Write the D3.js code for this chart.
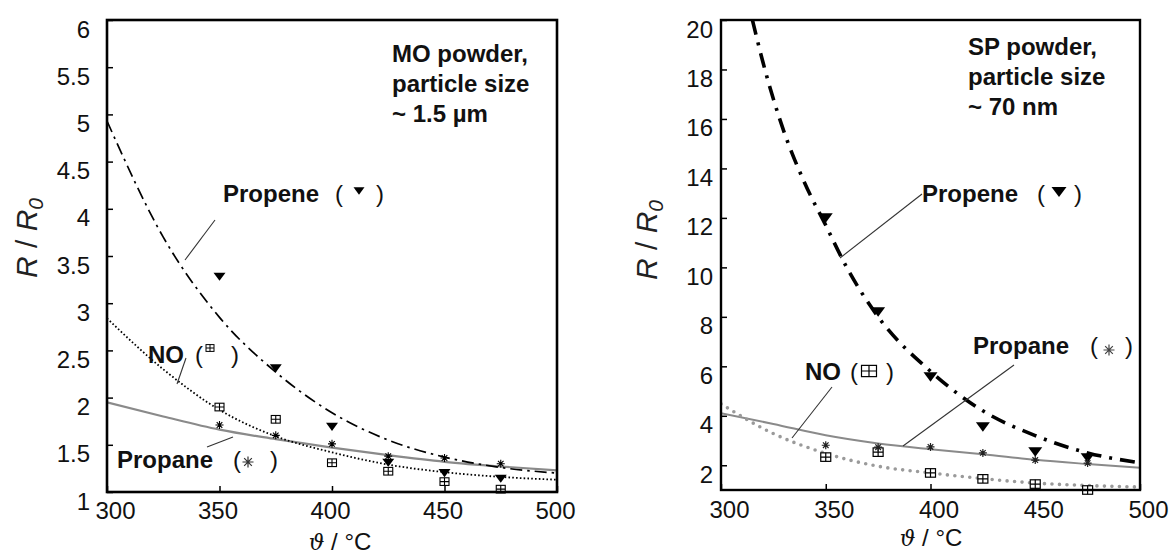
<!DOCTYPE html>
<html><head><meta charset="utf-8">
<script src="https://cdn.jsdelivr.net/npm/d3@7"></script>
<style>
body{margin:0;background:#fff}
svg{display:block}
text{font-family:"Liberation Sans",Arial,Helvetica,sans-serif}
</style>
</head><body>
<svg id="c" width="1174" height="558"></svg>
<script>
// ---------- data ----------
const xTicks = [300, 350, 400, 450, 500];
const moYTicks = [1, 1.5, 2, 2.5, 3, 3.5, 4, 4.5, 5, 5.5, 6];
const spYTicks = [2, 4, 6, 8, 10, 12, 14, 16, 18, 20];

const measT = [350, 375, 400, 425, 450, 475];
const moPropene = [3.28, 2.31, 1.69, 1.31, 1.20, 1.14];
const moNO      = [1.90, 1.77, 1.31, 1.22, 1.11, 1.03];
const moPropane = [1.71, 1.60, 1.51, 1.38, 1.36, 1.30];
const spPropene = [12.0, 8.2, 5.57, 3.55, 2.54, 2.29];
const spNO      = [2.33, 2.53, 1.69, 1.45, 1.24, 1.0];
const spPropane = [2.81, 2.73, 2.74, 2.50, 2.21, 2.09];

const fitT = [300, 325, 350, 375, 400, 425, 450, 475, 500];
const moPropeneFit = [4.93, 3.70, 2.85, 2.27, 1.84, 1.55, 1.37, 1.26, 1.20];
const moNOFit      = [2.84, 2.30, 1.87, 1.59, 1.42, 1.29, 1.21, 1.16, 1.13];
const moPropaneFit = [1.95, 1.80, 1.66, 1.56, 1.47, 1.39, 1.32, 1.27, 1.23];
const spPropeneFitT = [315, 320, 330, 340, 350, 360, 375, 400, 425, 450, 475, 500];
const spPropeneFit  = [20.0, 18.3, 15.5, 13.4, 11.7, 10.0, 8.0, 5.8, 4.2, 3.2, 2.5, 2.1];
const spNOFit      = [4.48, 3.28, 2.48, 1.96, 1.69, 1.46, 1.28, 1.18, 1.12];
const spPropaneFit = [4.1, 3.67, 3.21, 2.88, 2.65, 2.45, 2.22, 2.05, 1.9];

const moNote = ["MO powder,", "particle size", "~ 1.5 µm"];
const spNote = ["SP powder,", "particle size", "~ 70 nm"];

// ---------- drawing ----------
const svg = d3.select("#c");

function drawMarker(g, type, x, y, s, opts) {
  opts = opts || {};
  if (type === "tri") {
    const h = s * 0.68;
    g.append("path").attr("d", `M${x - s},${y - h}L${x + s},${y - h}L${x},${y + h}Z`).attr("fill", "#000");
  } else if (type === "box") {
    const w = s, h = s * (opts.hr || 0.85);
    g.append("rect").attr("x", x - w / 2).attr("y", y - h / 2).attr("width", w).attr("height", h)
      .attr("fill", opts.fill || "#fff").attr("stroke", "#000").attr("stroke-width", opts.sw || 1.2);
    g.append("path").attr("d", `M${x - w / 2},${y}H${x + w / 2}M${x},${y - h / 2}V${y + h / 2}`)
      .attr("stroke", "#000").attr("stroke-width", opts.sw || 1.1);
  } else if (type === "star") {
    const r = s / 2, d = r * 0.7;
    g.append("path").attr("d", `M${x - r},${y}H${x + r}M${x},${y - r}V${y + r}M${x - d},${y - d}L${x + d},${y + d}M${x - d},${y + d}L${x + d},${y - d}`)
      .attr("stroke", opts.color || "#000").attr("stroke-width", opts.sw || 1.2);
  }
}

function panel(cfg) {
  const g = svg.append("g");
  const x = d3.scaleLinear().domain([300, 500]).range([cfg.x0, cfg.x1]);
  const y = d3.scaleLinear().domain(cfg.yDomain).range([cfg.y1, cfg.y0]);

  const clipId = "clip" + cfg.id;
  svg.append("clipPath").attr("id", clipId).append("rect")
    .attr("x", cfg.x0).attr("y", cfg.y0).attr("width", cfg.x1 - cfg.x0).attr("height", cfg.y1 - cfg.y0);

  // y axis
  const ya = g.append("g").attr("transform", `translate(${cfg.x0},0)`)
    .call(d3.axisLeft(y).tickValues(cfg.yTicks).tickSize(-6).tickPadding(cfg.yPad).tickFormat(d3.format("")));
  ya.select(".domain").remove();
  ya.selectAll("line").attr("stroke", "#000").attr("stroke-width", 1.5);
  ya.selectAll("text").attr("dy", null).attr("y", 17).attr("font-size", 24).attr("fill", "#111");

  // x axis
  const xa = g.append("g").attr("transform", `translate(0,${cfg.y1})`)
    .call(d3.axisBottom(x).tickValues(xTicks).tickSize(-6).tickPadding(0).tickFormat(d3.format("")));
  xa.select(".domain").remove();
  xa.selectAll("line").attr("stroke", "#000").attr("stroke-width", 1.5);
  xa.selectAll("text").attr("dy", null).attr("y", cfg.xLabY).attr("font-size", 24).attr("fill", "#111")
    .attr("dx", (d, i) => cfg.xDx[i]);

  // curves
  const cg = g.append("g").attr("clip-path", `url(#${clipId})`);
  const line = d3.line().x(d => x(d[0])).y(d => y(d[1])).curve(d3.curveMonotoneX);
  cfg.curves.forEach(c => {
    cg.append("path").attr("d", line(c.t.map((t, i) => [t, c.v[i]])))
      .attr("fill", "none").attr("stroke", c.color).attr("stroke-width", c.w)
      .attr("stroke-dasharray", c.dash || null).attr("stroke-linecap", c.cap || "butt");
  });

  // markers
  const mg = g.append("g");
  cfg.series.forEach(s => {
    measT.forEach((t, i) => drawMarker(mg, s.type, x(t), y(s.v[i]), s.size, s.opts));
  });

  // frame
  g.append("rect").attr("x", cfg.x0).attr("y", cfg.y0).attr("width", cfg.x1 - cfg.x0).attr("height", cfg.y1 - cfg.y0)
    .attr("fill", "none").attr("stroke", "#000").attr("stroke-width", cfg.frameW);

  // axis titles
  const xt = g.append("text").attr("x", cfg.xTitle[0]).attr("y", cfg.xTitle[1]).attr("text-anchor", "middle")
    .attr("font-size", 24).attr("fill", "#111");
  xt.append("tspan").attr("font-style", "italic").attr("font-family", "'DejaVu Serif',serif").attr("font-size", 22).text("ϑ");
  xt.append("tspan").text(" / °C");

  const yt = g.append("text").attr("transform", `translate(${cfg.yTitle[0]},${cfg.yTitle[1]}) rotate(-90)`)
    .attr("text-anchor", "middle").attr("font-size", 30).attr("fill", "#222");
  yt.append("tspan").attr("font-style", "italic").text("R");
  yt.append("tspan").text(" / ");
  yt.append("tspan").attr("font-style", "italic").text("R");
  yt.append("tspan").attr("font-style", "italic").attr("font-size", 21).attr("dy", 6).text("0");

  // notes
  const nt = g.append("text").attr("font-size", 24).attr("font-weight", "bold").attr("fill", "#111");
  cfg.note.forEach((s, i) => nt.append("tspan").attr("x", cfg.noteX).attr("y", cfg.noteY + i * 30).text(s));

  // labels
  cfg.labels.forEach(L => {
    g.append("line").attr("x1", L.lead[0]).attr("y1", L.lead[1]).attr("x2", L.lead[2]).attr("y2", L.lead[3])
      .attr("stroke", "#333").attr("stroke-width", 1.1);
    g.append("text").attr("x", L.x).attr("y", L.y).attr("font-size", 24).attr("font-weight", "bold").attr("fill", "#111").text(L.name);
    g.append("text").attr("x", L.po).attr("y", L.y).attr("font-size", 24).attr("fill", "#111").text("(");
    g.append("text").attr("x", L.pc).attr("y", L.y).attr("font-size", 24).attr("fill", "#111").text(")");
    drawMarker(g, L.type, L.m[0], L.m[1], L.ms, L.mo);
  });
}

panel({
  id: "mo", x0: 107, x1: 557, y0: 20, y1: 492, yDomain: [1, 6], yTicks: moYTicks, yPad: 17,
  xLabY: 27, xDx: [8, -2, -2, -2, -2], frameW: 2.6,
  xTitle: [340, 550], yTitle: [37, 238],
  noteX: 392, noteY: 62, note: moNote,
  curves: [
    { t: fitT, v: moPropaneFit, color: "#8a8a8a", w: 2.2 },
    { t: fitT, v: moNOFit, color: "#000", w: 1.8, dash: "1.6,2.2" },
    { t: fitT, v: moPropeneFit, color: "#000", w: 1.7, dash: "12,5,2.5,5" }
  ],
  series: [
    { type: "tri", v: moPropene, size: 6 },
    { type: "box", v: moNO, size: 9, opts: { sw: 1.1 } },
    { type: "star", v: moPropane, size: 8, opts: { sw: 1.1 } }
  ],
  labels: [
    { name: "Propene", x: 223, y: 202, po: 335, pc: 376, type: "tri", m: [359, 191], ms: 5.5, lead: [215, 220, 185, 260] },
    { name: "NO", x: 148, y: 363, po: 195, pc: 231, type: "box", m: [210, 348], ms: 8, mo: { sw: 1 }, lead: [186, 358, 177, 384] },
    { name: "Propane", x: 117, y: 468, po: 233, pc: 270, type: "star", m: [248, 462], ms: 11, mo: { sw: 1.2, color: "#333" }, lead: [207, 447, 233, 437] }
  ]
});

panel({
  id: "sp", x0: 721, x1: 1140, y0: 20, y1: 490, yDomain: [1, 20], yTicks: spYTicks, yPad: 8,
  xLabY: 28, xDx: [8, 8, 8, 8, 8], frameW: 2.4,
  xTitle: [931, 546], yTitle: [657, 240],
  noteX: 968, noteY: 55, note: spNote,
  curves: [
    { t: fitT, v: spPropaneFit, color: "#8a8a8a", w: 2 },
    { t: fitT, v: spNOFit, color: "#9a9a9a", w: 3.6, dash: "0,7.5", cap: "round" },
    { t: spPropeneFitT, v: spPropeneFit, color: "#000", w: 3.6, dash: "15,8,3,8" }
  ],
  series: [
    { type: "tri", v: spPropene, size: 7 },
    { type: "box", v: spNO, size: 10, opts: { sw: 1.2 } },
    { type: "star", v: spPropane, size: 8, opts: { sw: 1.2, color: "#222" } }
  ],
  labels: [
    { name: "Propene", x: 922, y: 202, po: 1037, pc: 1074, type: "tri", m: [1059, 192], ms: 7.5, lead: [922, 194, 840, 258] },
    { name: "NO", x: 805, y: 380, po: 850, pc: 886, type: "box", m: [869, 371], ms: 15, mo: { sw: 1.2, hr: 0.75 }, lead: [832, 387, 792, 438] },
    { name: "Propane", x: 973, y: 354, po: 1090, pc: 1125, type: "star", m: [1109, 350], ms: 11, mo: { sw: 1.2, color: "#444" }, lead: [1014, 365, 903, 446] }
  ]
});
</script>
</body></html>
